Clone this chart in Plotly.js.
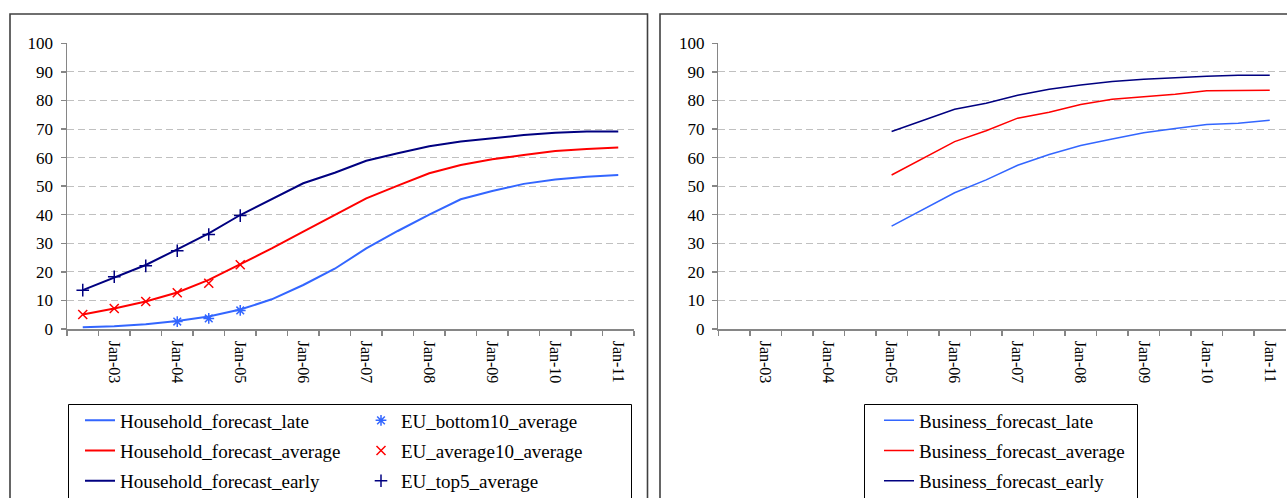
<!DOCTYPE html>
<html>
<head>
<meta charset="utf-8">
<script src="https://cdn.plot.ly/plotly-3.0.1.min.js"></script>
<style>
html,body{margin:0;padding:0;background:#fff;}
#chart{width:1287px;height:498px;}
</style>
</head>
<body>
<div id="chart"></div>
<script>
// ---- data ----
const categories = ["Jul-02","Jan-03","Jul-03","Jan-04","Jul-04","Jan-05","Jul-05","Jan-06","Jul-06",
                    "Jan-07","Jul-07","Jan-08","Jul-08","Jan-09","Jul-09","Jan-10","Jul-10","Jan-11"];
const tickLabels = ["","Jan-03","","Jan-04","","Jan-05","","Jan-06","","Jan-07","","Jan-08","","Jan-09","","Jan-10","","Jan-11"];

const householdLate    = [0.6, 1.0, 1.7, 2.8, 4.4, 6.8, 10.4, 15.4, 21.1, 28.2, 34.3, 40.0, 45.4, 48.3, 50.8, 52.3, 53.3, 53.9];
const householdAverage = [5.1, 7.2, 9.6, 12.8, 17.2, 22.6, 28.2, 34.1, 39.9, 45.7, 50.2, 54.5, 57.4, 59.4, 60.9, 62.3, 63.0, 63.5];
const householdEarly   = [13.6, 18.1, 22.4, 27.9, 33.5, 39.9, 45.4, 51.0, 54.7, 58.9, 61.5, 64.0, 65.6, 66.7, 67.9, 68.7, 69.1, 69.1];

const euBottom10 = [null, null, null, 2.6, 3.7, 6.5];
const euAverage10 = [5.1, 7.2, 9.6, 12.7, 16.0, 22.5];
const euTop5 = [13.6, 18.3, 22.1, 27.4, 33.1, 39.7];

const businessLate    = [null, null, null, null, null, 36.0, 41.9, 47.7, 52.2, 57.3, 61.1, 64.2, 66.5, 68.7, 70.2, 71.6, 72.0, 73.1];
const businessAverage = [null, null, null, null, null, 53.9, 59.7, 65.6, 69.4, 73.8, 75.9, 78.6, 80.4, 81.3, 82.2, 83.4, 83.6, 83.6];
const businessEarly   = [null, null, null, null, null, 69.1, 73.0, 76.9, 79.0, 81.8, 83.9, 85.4, 86.6, 87.4, 87.9, 88.5, 88.8, 88.8];

// ---- styling ----
const W = 1287, H = 498;
const px = v => v / W;
const py = v => 1 - v / H;
const cLate = '#3366ff', cAvg = '#ff0000', cEarly = '#000080';
const axisGray = '#868686';
const FONT = 'Liberation Serif';

function lineTrace(name, y, color, width, xa, ya, legend, grp) {
  return {type: 'scatter', mode: 'lines', name: name, x: categories, y: y,
          xaxis: xa, yaxis: ya, legend: legend, legendgroup: grp,
          line: {color: color, width: width}, connectgaps: false, hoverinfo: 'skip'};
}
function markerTrace(name, y, color, symbol, grp) {
  return {type: 'scatter', mode: 'markers', name: name, x: categories.slice(0, y.length), y: y,
          xaxis: 'x', yaxis: 'y', legend: 'legend2', legendgroup: grp,
          marker: {symbol: symbol, size: 9, color: color, line: {color: color, width: 1.5}},
          hoverinfo: 'skip'};
}

const data = [
  lineTrace('Household_forecast_late', householdLate, cLate, 2, 'x', 'y', 'legend', 'h1'),
  lineTrace('Household_forecast_average', householdAverage, cAvg, 2, 'x', 'y', 'legend', 'h2'),
  lineTrace('Household_forecast_early', householdEarly, cEarly, 2, 'x', 'y', 'legend', 'h3'),
  markerTrace('EU_bottom10_average', euBottom10, cLate, 'asterisk-open', 'e1'),
  markerTrace('EU_average10_average', euAverage10, cAvg, 'x-thin-open', 'e2'),
  markerTrace('EU_top5_average', euTop5, cEarly, 'cross-thin-open', 'e3'),
  lineTrace('Business_forecast_late', businessLate, cLate, 1.5, 'x2', 'y2', 'legend3', 'b1'),
  lineTrace('Business_forecast_average', businessAverage, cAvg, 1.5, 'x2', 'y2', 'legend3', 'b2'),
  lineTrace('Business_forecast_early', businessEarly, cEarly, 1.5, 'x2', 'y2', 'legend3', 'b3')
];

function xAxis(domain, anchor) {
  return {domain: domain, anchor: anchor, type: 'category', categoryorder: 'array', categoryarray: categories,
          range: [-0.5, categories.length - 0.5], tickmode: 'array', tickvals: categories, ticktext: tickLabels,
          tickson: 'boundaries', ticks: 'outside', ticklen: 5, tickwidth: 1.5, tickcolor: axisGray,
          ticklabelstandoff: 7, automargin: false,
          showline: true, linecolor: axisGray, linewidth: 1.5, showgrid: false, zeroline: false,
          tickangle: 90, tickfont: {family: FONT, size: 16, color: '#000000'}, fixedrange: true};
}
function yAxis(domain, anchor) {
  return {domain: domain, anchor: anchor, range: [0, 100], tickmode: 'linear', tick0: 0, dtick: 10,
          ticks: 'outside', ticklen: 5, tickwidth: 1.5, tickcolor: axisGray, automargin: false,
          ticklabelstandoff: 4,
          showline: true, linecolor: axisGray, linewidth: 1.5, zeroline: false,
          showgrid: true, gridcolor: '#c0c0c0', gridwidth: 1, griddash: '7px,4px',
          tickfont: {family: FONT, size: 17, color: '#000000'}, fixedrange: true};
}
function legendAt(x) {
  return {x: px(x), xanchor: 'left', y: py(401.5), yanchor: 'top', orientation: 'v',
          bgcolor: 'rgba(0,0,0,0)', borderwidth: 0, tracegroupgap: 2.5,
          font: {family: FONT, size: 19, color: '#000000'}};
}
function box(x0, y0, x1, y1, color, width) {
  return {type: 'rect', xref: 'paper', yref: 'paper', x0: px(x0), x1: px(x1), y0: py(y0), y1: py(y1),
          line: {color: color, width: width}, fillcolor: 'rgba(0,0,0,0)', layer: 'above'};
}

const layout = {
  width: W, height: H,
  margin: {l: 0, r: 0, t: 0, b: 0, pad: 0, autoexpand: false},
  paper_bgcolor: '#ffffff', plot_bgcolor: 'rgba(0,0,0,0)',
  font: {family: FONT, size: 17, color: '#000000'},
  showlegend: true,
  xaxis: xAxis([px(67), px(634)], 'y'),
  yaxis: yAxis([py(329), py(43.3)], 'x'),
  xaxis2: xAxis([px(718.3), px(1285.5)], 'y2'),
  yaxis2: yAxis([py(329), py(43.3)], 'x2'),
  legend: legendAt(80),
  legend2: legendAt(361),
  legend3: legendAt(879),
  shapes: [
    box(10, 14, 647.5, 540, '#404040', 1.6),
    box(660, 14, 1300, 540, '#404040', 1.6),
    box(68.5, 404.5, 631.5, 540, '#000000', 1),
    box(864.5, 404.5, 1137.5, 540, '#000000', 1)
  ]
};

Plotly.newPlot('chart', data, layout, {staticPlot: true, displayModeBar: false});
</script>
</body>
</html>
